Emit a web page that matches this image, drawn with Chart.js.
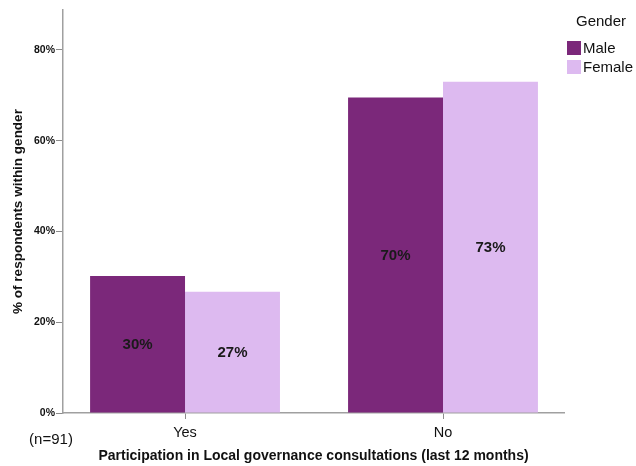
<!DOCTYPE html>
<html>
<head>
<meta charset="utf-8">
<script src="https://cdn.jsdelivr.net/npm/chart.js@4"></script>
<style>
  html, body { margin: 0; padding: 0; background: #fff; }
  #wrap { width: 636px; height: 466px; }
</style>
</head>
<body>
<div id="wrap"><canvas id="chart" width="636" height="466"></canvas></div>
<script>
const categories = ['Yes', 'No'];
const genders = ['Male', 'Female'];
const maleValues = [30.2, 69.5];
const femaleValues = [26.7, 73.0];
const barLabels = [['30%', '70%'], ['27%', '73%']];
const yTicks = [0, 20, 40, 60, 80];
const sampleNote = '(n=91)';

const colors = ['#7b287a', '#ddbaf0'];
const FONT = "'Liberation Sans', Arial, sans-serif";

// x is a linear scale so the two groups sit where SPSS put them
const toPoints = vals => vals.map((v, i) => ({ x: i, y: v }));

// labels in the middle of each bar
const barText = {
    id: 'barText',
    afterDatasetsDraw(chart) {
        const ctx = chart.ctx;
        ctx.save();
        ctx.font = 'bold 15px ' + FONT;
        ctx.fillStyle = '#1a1a1a';
        ctx.textAlign = 'center';
        ctx.textBaseline = 'middle';
        chart.data.datasets.forEach((ds, i) => {
            chart.getDatasetMeta(i).data.forEach((bar, j) => {
                ctx.fillText(barLabels[i][j], bar.x, (bar.y + bar.base) / 2 + 1);
            });
        });
        ctx.restore();
    }
};

// SPSS style legend + sample size note
const extras = {
    id: 'extras',
    afterDraw(chart) {
        const ctx = chart.ctx;
        ctx.save();
        ctx.fillStyle = '#111';
        ctx.font = '15px ' + FONT;
        ctx.textAlign = 'center';
        ctx.textBaseline = 'middle';
        ctx.fillText('Gender', 601, 22);
        ctx.textAlign = 'left';
        genders.forEach((g, i) => {
            const y = 41 + i * 19;
            ctx.fillStyle = colors[i];
            ctx.fillRect(567, y, 14, 14);
            ctx.fillStyle = '#111';
            ctx.fillText(g, 583, y + 8);
        });
        ctx.textAlign = 'center';
        ctx.fillText(sampleNote, 51, 440);
        ctx.restore();
    }
};

new Chart(document.getElementById('chart'), {
    type: 'bar',
    data: {
        datasets: [
            { label: genders[0], data: toPoints(maleValues), backgroundColor: colors[0] },
            { label: genders[1], data: toPoints(femaleValues), backgroundColor: colors[1] }
        ]
    },
    options: {
        responsive: false,
        animation: false,
        categoryPercentage: 0.736,
        barPercentage: 1.0,
        layout: { padding: { top: 10, right: 72, left: 0, bottom: 0 } },
        plugins: {
            legend: { display: false },
            tooltip: { enabled: false }
        },
        scales: {
            x: {
                type: 'linear',
                offset: false,
                min: -0.473,
                max: 1.469,
                grid: { offset: false, drawOnChartArea: false, drawTicks: true, tickLength: 6, color: '#8c8c8c', lineWidth: 1 },
                border: { color: '#a0a0a0', width: 1.5 },
                ticks: {
                    color: '#111',
                    font: { family: FONT, size: 14.5 },
                    padding: 5,
                    callback: v => categories[v]
                },
                afterBuildTicks(scale) {
                    scale.ticks = categories.map((c, i) => ({ value: i }));
                },
                title: {
                    display: true,
                    text: 'Participation in Local governance consultations (last 12 months)',
                    color: '#111',
                    font: { family: FONT, size: 14, weight: 'bold' },
                    padding: { top: 0, bottom: 1 }
                },
                afterFit(scale) { scale.height = 53; }
            },
            y: {
                min: 0,
                max: 88.8,
                grid: { drawOnChartArea: false, drawTicks: true, tickLength: 7, color: '#8c8c8c', lineWidth: 1 },
                border: { color: '#a0a0a0', width: 1.5 },
                ticks: {
                    color: '#111',
                    padding: 1,
                    font: { family: FONT, size: 10.5, weight: 'bold' },
                    callback: v => v + '%'
                },
                afterBuildTicks(scale) {
                    scale.ticks = yTicks.map(v => ({ value: v }));
                },
                title: {
                    display: true,
                    text: '% of respondents within gender',
                    color: '#111',
                    font: { family: FONT, size: 13.5, weight: 'bold' },
                    padding: { top: 10, bottom: 0 }
                },
                afterFit(scale) { scale.width = 63; }
            }
        }
    },
    plugins: [barText, extras]
});
</script>
</body>
</html>
